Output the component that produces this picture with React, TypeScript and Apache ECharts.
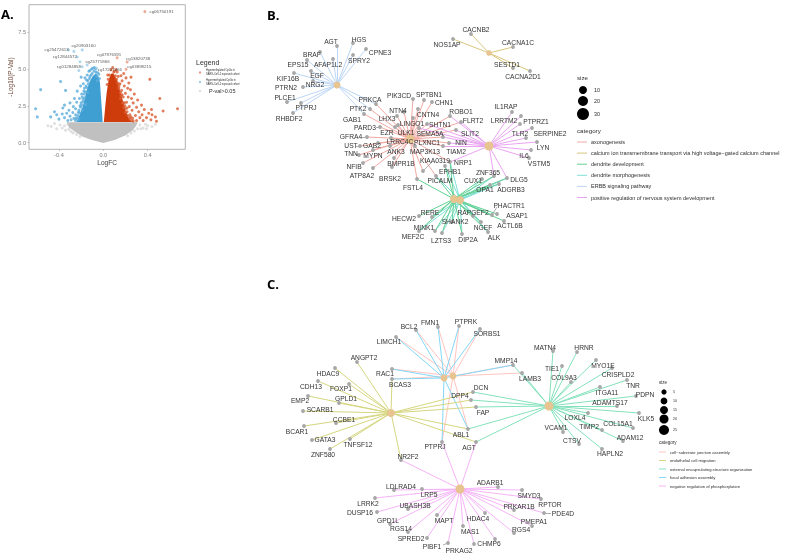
import React, { useEffect, useRef } from "react";
import * as echarts from "echarts";

// ---------- Panel A: volcano values (LogFC, -Log10(P-Val)) ----------
const xTicks = [-0.4, 0, 0.4];
const yTicks = [0, 2.5, 5, 7.5];
const greyBody = [[-0.33,1.38],[0.31,1.38],[0.3,1.2],[0.265,0.85],[0.2,0.5],[0.11,0.2],[0,-0.03],[-0.11,0.2],[-0.185,0.4],[-0.255,0.75],[-0.31,1.05]];
const blueBody = [[-0.005,1.4],[-0.24,1.4],[-0.215,1.87],[-0.185,2.45],[-0.167,3.0],[-0.15,3.55],[-0.125,4.1],[-0.098,4.5],[-0.067,4.72],[-0.043,4.5],[-0.03,4.1],[-0.021,3.1],[-0.012,2.2]];
const redBody = [[0.005,1.4],[0.018,2.45],[0.03,3.35],[0.048,4.25],[0.07,4.68],[0.09,4.72],[0.125,4.25],[0.15,3.55],[0.175,2.9],[0.2,2.2],[0.232,1.65],[0.26,1.4]];
const greyPoints = [[-0.5,1.15],[-0.47,1.1],[-0.44,1.3],[-0.42,0.95],[-0.39,1.2],[-0.37,1.0],[-0.35,1.15],[-0.34,0.85],[-0.32,1.25],[-0.31,0.9],[-0.29,0.75],[-0.27,0.65],[-0.24,0.55],[-0.21,0.42],[0.22,0.47],[0.25,0.65],[0.28,0.8],[0.31,0.95],[0.33,1.2],[0.34,0.95],[0.36,1.0],[0.38,1.25],[0.39,0.95],[0.4,1.15],[0.44,1.1],[0.47,1.25]];
const bluePoints = [[-0.565,3.6],[-0.61,2.3],[-0.595,1.75],[-0.475,1.75],[-0.44,2.1],[-0.42,1.9],[-0.4,1.6],[-0.385,4.15],[-0.34,3.55],[-0.35,2.55],[-0.365,2.35],[-0.37,1.95],[-0.35,1.7],[-0.33,2.0],[-0.32,1.5],[-0.31,2.2],[-0.3,2.7],[-0.3,1.8],[-0.29,1.55],[-0.275,2.05],[-0.27,2.45],[-0.265,1.65],[-0.26,3.0],[-0.25,1.9],[-0.25,2.3],[-0.24,2.75],[-0.235,3.5],[-0.225,2.05],[-0.22,1.6],[-0.215,3.0],[-0.21,2.5],[-0.205,3.85],[-0.2,4.45],[-0.195,3.3],[-0.19,2.2],[-0.185,2.8],[-0.18,4.0],[-0.175,3.5],[-0.17,3.05],[-0.165,4.4],[-0.16,2.6],[-0.155,3.85],[-0.15,4.25],[-0.145,4.6],[-0.14,3.4],[-0.13,4.85],[-0.12,4.9],[-0.105,5.0],[-0.095,5.05],[-0.08,5.1],[-0.07,5.0],[-0.065,4.8],[-0.06,4.5],[-0.055,4.2],[-0.25,1.5],[-0.24,1.7],[-0.22,2.2],[-0.2,2.7],[-0.19,3.1],[-0.17,3.7],[-0.14,4.2],[-0.12,4.5],[-0.1,4.7],[-0.245,1.62],[-0.228,1.85],[-0.215,2.05],[-0.205,2.4],[-0.195,2.55],[-0.182,2.95],[-0.172,3.3],[-0.16,3.45],[-0.15,3.75],[-0.135,4.0],[-0.125,4.35],[-0.11,4.6],[-0.085,4.85],[-0.05,4.75],[-0.04,4.65],[-0.035,4.35]];
const redPoints = [[0.51,3.0],[0.67,2.3],[0.54,2.15],[0.435,2.25],[0.42,4.3],[0.47,1.75],[0.48,1.45],[0.44,1.9],[0.43,1.55],[0.41,2.0],[0.39,1.7],[0.37,2.25],[0.36,1.5],[0.35,1.9],[0.345,2.55],[0.33,1.7],[0.32,2.1],[0.31,2.9],[0.3,1.5],[0.3,2.4],[0.29,1.85],[0.28,3.3],[0.27,2.7],[0.265,1.65],[0.26,2.2],[0.255,3.0],[0.25,4.45],[0.245,3.6],[0.24,1.9],[0.235,2.45],[0.23,4.05],[0.225,3.1],[0.22,3.7],[0.215,2.1],[0.21,2.75],[0.205,4.4],[0.2,3.35],[0.195,2.5],[0.19,3.85],[0.185,4.7],[0.18,3.1],[0.175,2.7],[0.17,4.2],[0.165,3.55],[0.16,4.55],[0.155,3.0],[0.15,4.0],[0.14,3.7],[0.135,4.5],[0.125,4.8],[0.115,4.95],[0.1,4.85],[0.085,5.1],[0.07,4.95],[0.055,4.6],[0.045,4.3],[0.26,1.5],[0.24,1.6],[0.22,1.85],[0.2,2.3],[0.18,2.7],[0.16,3.2],[0.14,3.8],[0.12,4.3],[0.27,1.45],[0.25,1.75],[0.235,1.7],[0.215,2.35],[0.2,2.05],[0.19,2.7],[0.185,2.4],[0.17,3.25],[0.155,3.4],[0.145,3.95],[0.13,4.05],[0.11,4.55],[0.095,4.8],[0.04,4.6],[0.035,3.95]];
const volcanoLabelled = [
  ["cg06750191", 0.375, 8.9, 16.7, 0],
  ["cg25472613", -0.315, 6.3, -11.7, 0],
  ["cg20903160", -0.19, 6.3, 1.3, -4],
  ["cg12844572", -0.235, 5.82, -12.3, 0],
  ["cg01284858", -0.19, 5.16, -13.3, 0],
  ["cg25771866", -0.145, 5.28, 10.3, -3.3],
  ["cg07976591", 0.125, 5.77, -8, -3.3],
  ["cg13820738", 0.215, 5.48, 11, -3],
  ["cg17227466", -0.06, 5.05, 13.3, 0.7],
  ["cg03898215", 0.205, 4.98, 13.3, -2.7],
];
const extraVolcanoPoints = [[-0.265,6.2],[-0.21,5.5],[-0.22,4.9]];

// ---------- Panels B, C: gene networks [name, x, y, labelX, labelY] ----------
const bHubs = [["ERBB", 337, 85, 7], ["CALCIUM", 489, 53, 5.5], ["AXON", 410, 139, 9], ["POSREG", 489, 146, 9], ["DENDEV", 454, 199, 8], ["DENMORPH", 460, 200, 8]];
const bNodes = [
  ["AGT",337,46,331,41],["HGS",353,43,359,39],["CPNE3",366,49,380,52],["BRAF",320,52,312,54],["EPS15",307,60,298,64],["AFAP1L2",333,59,328,64],["SPRY2",353,55,359,60],["EGF",311,71,317,75],["KIF16B",294,73,288,78],["NRG2",313,81,315,84],["PTRN2",303,87,286,87],["PLCE1",287,102,285,97],["PTPRJ",301,103,306,107],["RHBDF2",293,113,289,118],
  ["PRKCA",376,104,370,99],["PTK2",370,109,358,108],["GAB1",364,114,352,119],
  ["CACNB2",471,34,476,29],["CACNA1C",513,47,518,42],["NOS1AP",453,39,447,44],["SESTD1",513,68,507,64],["CACNA2D1",530,71,523,76],
  ["PIK3CD",413,99,399,95],["SPTBN1",424,100,429,94],["CHN1",432,102,444,102],["NTN4",404,112,398,110],["CNTN4",418,109,428,114],["LHX3",397,116,387,118],["LINGO1",413,118,412,123],["ROBO1",450,116,461,111],["FLRT2",461,122,473,120],["SHTN1",427,124,440,124],["PARD3",380,127,365,127],["EZR",395,127,387,132],["ULK1",398,125,406,132],["SEMA5A",419,128,430,133],["SLIT2",456,130,470,133],["GFRA4",367,137,351,136],["LRRC4C",391,138,400,141],["PLXNC1",443,137,427,142],["NIN",449,143,461,142],["UST",360,146,351,145],["GAB2",378,143,372,145],["ANK3",390,146,396,151],["MAP3K13",415,146,425,151],["TIAM2",443,146,456,151],["TNN",359,155,351,153],["MYPN",373,150,373,155],["BMPR1B",394,158,401,163],["KIAA0319",423,171,435,160],["NRP1",450,162,463,162],["NFIB",363,163,354,166],["ATP8A2",373,168,362,175],["BRSK2",392,167,390,178],
  ["EPHB1",445,166,450,171],["ZNF365",494,176,488,172],["CUX1",482,179,473,180],["DLG5",507,178,519,179],["PICALM",436,176,440,180],["FSTL4",417,179,413,187],["OPA1",490,185,485,189],["ADGRB3",499,184,511,189],["PHACTR1",492,215,509,205],["ASAP1",497,214,517,215],["ACTL6B",504,221,510,225],["RAPGEF2",473,216,473,212],["NGEF",481,222,483,227],["ALK",488,232,494,237],["RERE",432,217,430,212],["HECW2",419,216,404,218],["MINK1",435,231,424,227],["SHANK2",452,222,455,221],["MEF2C",419,231,413,236],["LZTS3",442,233,441,240],["DIP2A",462,234,468,239],
  ["IL1RAP",512,112,506,106],["LRRTM2",521,116,504,120],["PTPRZ1",520,124,536,121],["TLR2",526,138,520,133],["SERPINE2",532,128,550,133],["LYN",537,142,543,147],["IL6",531,150,524,155],["VSTM5",529,158,539,163],
];
const bLeaders = [["KIAA0319",431,163],["PHACTR1",497,207],["PARD3",376,127],["GFRA4",362,137],["UST",356,146],["TNN",355,154]];
const bErbb = ["AGT","HGS","CPNE3","BRAF","EPS15","AFAP1L2","SPRY2","EGF","KIF16B","NRG2","PTRN2","PLCE1","PTPRJ","RHBDF2","PRKCA","PTK2","GAB1"];
const bCalcium = ["CACNB2","CACNA1C","NOS1AP","SESTD1","CACNA2D1"];
const bAxon = ["PRKCA","PTK2","GAB1","PIK3CD","SPTBN1","CHN1","NTN4","CNTN4","LHX3","LINGO1","ROBO1","SHTN1","PARD3","EZR","ULK1","SEMA5A","GFRA4","LRRC4C","PLXNC1","UST","GAB2","ANK3","MAP3K13","TNN","MYPN","BMPR1B","KIAA0319","NFIB","ATP8A2","BRSK2","FSTL4","PICALM","FLRT2","SLIT2","NIN","TIAM2","NRP1"];
const bPosReg = ["ROBO1","FLRT2","SHTN1","SEMA5A","PLXNC1","SLIT2","NIN","TIAM2","NRP1","IL1RAP","LRRTM2","PTPRZ1","TLR2","SERPINE2","LYN","IL6","VSTM5","ZNF365","DLG5"];
const bDendev = ["EPHB1","NRP1","ZNF365","CUX1","DLG5","OPA1","ADGRB3","PHACTR1","ASAP1","ACTL6B","RAPGEF2","NGEF","ALK","DIP2A","SHANK2","LZTS3","MINK1","MEF2C","HECW2","RERE","FSTL4","PICALM"];
const bDenmorph = ["EPHB1","NRP1","ZNF365","CUX1","DLG5","OPA1","ADGRB3","PHACTR1","RAPGEF2","NGEF","ALK","DIP2A","SHANK2","LZTS3","MINK1","MEF2C","RERE","PICALM"];

const cHubs = [["ENDO", 391, 413, 8], ["FOCAL", 444, 378, 7], ["SUBSTRATE", 453, 376, 7], ["EXTRA", 549, 406, 9], ["NEGPHOS", 460, 489, 9]];
const cNodes = [
  ["BCL2",416,330,409,326],["FMN1",438,327,430,322],["PTPRK",459,326,466,321],["SORBS1",480,329,487,333],["LIMCH1",396,337,389,341],["MMP14",513,365,506,360],["LAMB3",522,373,530,378],["RAC1",392,369,385,373],["BCAS3",392,379,400,384],
  ["ANGPT2",357,362,364,357],["HDAC9",335,368,328,373],["CDH13",318,381,311,386],["FOXP1",349,384,341,388],["EMP2",308,396,300,400],["GPLD1",339,403,346,398],["SCARB1",303,411,320,409],["CCBE1",336,423,344,419],["BCAR1",304,426,297,431],["GATA3",312,440,325,439],["TNFSF12",350,439,358,444],["ZNF580",330,449,323,454],["NR2F2",401,460,408,456],
  ["DCN",473,392,481,387],["DPP4",471,400,460,395],["FAP",476,407,483,412],["ABL1",468,429,461,434],["AGT",476,442,469,447],["PTPRJ",442,442,435,446],
  ["MATN4",553,351,545,347],["HRNR",577,352,584,347],["TIE1",562,366,552,368],["MYO1E",596,360,603,365],["COL9A3",571,382,564,377],["CRISPLD2",612,368,618,374],["TNR",627,380,633,385],["ITGA11",600,387,607,392],["PDPN",636,396,645,394],["ADAMTS17",617,406,610,402],["KLK5",639,413,646,418],["LOXL4",588,413,575,417],["COL15A1",633,428,618,423],["VCAM1",563,432,556,427],["TIMP2",602,430,589,426],["ADAM12",623,441,630,437],["CTSV",579,444,572,440],["HAPLN2",602,449,610,453],
  ["ADARB1",498,487,490,482],["LDLRAD4",394,490,401,486],["LRP5",422,489,429,494],["SMYD3",522,490,529,495],["RPTOR",541,499,550,504],["LRRK2",375,498,368,503],["UBASH3B",408,509,415,505],["PRKAR1B",514,510,519,506],["DUSP16",377,512,360,512],["PDE4D",544,513,563,513],["HDAC4",485,513,478,518],["GPD1L",390,524,388,520],["MAPT",437,515,444,520],["PMEPA1",532,526,534,521],["RGS14",408,532,401,528],["RGS4",514,533,521,529],["MAS1",463,526,470,531],["SPRED2",427,538,411,538],["CHMP6",495,539,489,543],["PIBF1",448,543,432,546],["PRKAG2",474,544,459,550],
];
const cLeaders = [["PDE4D",551,513],["PIBF1",443,545]];
const cFocal = ["BCL2","FMN1","PTPRK","SORBS1","LIMCH1","MMP14","RAC1","BCAS3","ABL1","PTPRJ"];
const cSubstrate = ["BCL2","FMN1","PTPRK","SORBS1","LIMCH1","MMP14","LAMB3","RAC1","BCAS3","ABL1","PTPRJ"];
const cEndo = ["ANGPT2","HDAC9","CDH13","FOXP1","EMP2","GPLD1","SCARB1","CCBE1","BCAR1","GATA3","TNFSF12","ZNF580","NR2F2","BCAS3","DCN","DPP4","FAP","ABL1","AGT"];
const cExtra = ["MMP14","LAMB3","MATN4","HRNR","TIE1","MYO1E","COL9A3","CRISPLD2","TNR","ITGA11","PDPN","ADAMTS17","KLK5","LOXL4","COL15A1","VCAM1","TIMP2","ADAM12","CTSV","HAPLN2","DCN","DPP4","FAP","ABL1","AGT"];
const cNegPhos = ["ADARB1","LDLRAD4","LRP5","SMYD3","RPTOR","LRRK2","UBASH3B","PRKAR1B","DUSP16","PDE4D","HDAC4","GPD1L","MAPT","PMEPA1","RGS14","RGS4","MAS1","SPRED2","CHMP6","PIBF1","PRKAG2","NR2F2","AGT","PTPRJ"];

// ---------- Legend contents ----------
const bSizeValues = ["10", "20", "30"];
const cSizeValues = ["5", "10", "15", "20", "25"];
const bCategories = ["axonogenesis","calcium ion transmembrane transport via high voltage\u2212gated calcium channel","dendrite development","dendrite morphogenesis","ERBB signaling pathway","positive regulation of nervous system development"];
const cCategories = ["cell\u2212substrate junction assembly","endothelial cell migration","external encapsulating structure organization","focal adhesion assembly","negative regulation of phosphorylation"];
const bColors = ["#f2aaa4","#d9c77e","#62d193","#80e0d6","#bcd6f5","#eaa4f2"];
const cColors = ["#ffc4c0","#d6d680","#84e2bc","#84d8f8","#f6b4f8"];

const HUB = "#e8c490";
const NODE = "#a8a8a8";
const TXT = "#333333";

function buildGraph(hubs: any[], nodes: any[], leaders: any[], members: [string, string[], string][]) {
  const data: any[] = [];
  const index: Record<string, number> = {};
  nodes.forEach((n) => {
    index[n[0]] = data.length;
    data.push({
      name: n[0],
      value: [n[1], n[2]],
      symbolSize: 3.8,
      itemStyle: { color: NODE },
      label: {
        show: true,
        formatter: n[0],
        position: "inside",
        offset: [n[3] - n[1], n[4] - n[2]],
        fontSize: 6.7,
        color: TXT,
        fontFamily: "Liberation Sans",
      },
    });
  });
  hubs.forEach((h) => {
    index["#" + h[0]] = data.length;
    data.push({ name: "#" + h[0], value: [h[1], h[2]], symbolSize: h[3], itemStyle: { color: HUB }, label: { show: false } });
  });
  const links: any[] = [];
  members.forEach(([hub, genes, color]) => {
    genes.forEach((g) => {
      links.push({ source: index["#" + hub], target: index[g], lineStyle: { color, width: 1, opacity: 1, curveness: 0 } });
    });
  });
  leaders.forEach((l, i) => {
    const anchor = data.length;
    data.push({ name: "~" + i, value: [l[1], l[2]], symbolSize: 0, itemStyle: { opacity: 0 }, label: { show: false } });
    links.push({ source: index[l[0]], target: anchor, lineStyle: { color: "#8c8c8c", width: 0.7, opacity: 1, curveness: 0 } });
  });
  return {
    type: "graph",
    layout: "none",
    coordinateSystem: "cartesian2d",
    xAxisIndex: 1,
    yAxisIndex: 1,
    roam: false,
    silent: true,
    data,
    links,
    edgeSymbol: ["none", "none"],
    z: 3,
  };
}

function bodySeries(body: number[][], fill: string, z: number) {
  return {
    type: "custom",
    xAxisIndex: 0,
    yAxisIndex: 0,
    silent: true,
    z,
    data: body,
    renderItem: (p: any, api: any) =>
      p.dataIndex === 0
        ? { type: "polygon", shape: { points: body.map((b) => api.coord(b)) }, style: { fill } }
        : null,
  };
}

function dots(data: number[][], color: string, z: number, opacity = 0.8) {
  return { type: "scatter", xAxisIndex: 0, yAxisIndex: 0, silent: true, symbolSize: 3, z, data, itemStyle: { color, opacity } };
}

function txt(text: string, x: number, y: number, fontSize: number, extra: any = {}) {
  return { type: "text", x, y, silent: true, style: { text, fontSize, fill: "#2e2e2e", fontFamily: "Liberation Sans", textVerticalAlign: "middle", ...extra } };
}

function legendGraphics() {
  const g: any[] = [];
  // panel letters
  g.push(txt("A.", 1, 14, 13, { fill: "#000", fontWeight: "bold", fontFamily: "Open Sans" }));
  g.push(txt("B.", 267, 15, 13, { fill: "#000", fontWeight: "bold", fontFamily: "Open Sans" }));
  g.push(txt("C.", 267, 284, 13, { fill: "#000", fontWeight: "bold", fontFamily: "Open Sans" }));
  // volcano legend
  g.push(txt("Legend", 196, 62, 7));
  g.push({ type: "circle", shape: { cx: 200, cy: 72.5, r: 1.2 }, style: { fill: "#eb9a80" } });
  g.push(txt("Hypomethylated CpGs in", 206, 70.5, 2.6));
  g.push(txt("SARS-CoV-2 exposed cohort", 206, 74.5, 2.6));
  g.push({ type: "circle", shape: { cx: 200, cy: 82, r: 1.2 }, style: { fill: "#9ccde8" } });
  g.push(txt("Hypermethylated CpGs in", 206, 80, 2.6));
  g.push(txt("SARS-CoV-2 exposed cohort", 206, 84, 2.6));
  g.push({ type: "circle", shape: { cx: 200, cy: 91, r: 1.2 }, style: { fill: "#dddddd" } });
  g.push(txt("P-val>0.05", 209, 91, 5.5));
  // B legend
  g.push(txt("size", 577, 77, 6.2));
  [[90, 4], [101, 5], [114, 6]].forEach(([cy, r], i) => {
    g.push({ type: "circle", shape: { cx: 583, cy, r }, style: { fill: "#000" } });
    g.push(txt(bSizeValues[i], 594, cy, 5.4));
  });
  g.push(txt("category", 577, 130, 6.2));
  bCategories.forEach((c, i) => {
    const y = 142 + i * 11.1;
    g.push({ type: "line", shape: { x1: 577, y1: y, x2: 587, y2: y }, style: { stroke: bColors[i], lineWidth: 1 } });
    g.push(txt(c, 591, y, 5.5));
  });
  // C legend
  g.push(txt("size", 659, 382, 4.6));
  [[392, 2.6], [401, 3.4], [410, 4], [419, 4.5], [430, 5]].forEach(([cy, r], i) => {
    g.push({ type: "circle", shape: { cx: 664, cy, r }, style: { fill: "#000" } });
    g.push(txt(cSizeValues[i], 673, cy, 3.6));
  });
  g.push(txt("category", 659, 442, 4.6));
  cCategories.forEach((c, i) => {
    const y = 452 + i * 8.5;
    g.push({ type: "line", shape: { x1: 659, y1: y, x2: 666, y2: y }, style: { stroke: cColors[i], lineWidth: 1 } });
    g.push(txt(c, 670, y, 4.15));
  });
  return g;
}

export default function App() {
  const ref = useRef<HTMLDivElement>(null);
  useEffect(() => {
    const chart = echarts.init(ref.current!, undefined, { renderer: "svg" });
    const axisGrey = "#7d7d7d";
    chart.setOption({
      animation: false,
      backgroundColor: "#fff",
      grid: [
        { left: 29, top: 4.7, width: 156.3, height: 144.6, show: true, borderColor: "#b3b3b3", borderWidth: 1, backgroundColor: "#fff" },
        { left: 0, top: 0, width: 797, height: 554, show: false },
      ],
      xAxis: [
        {
          type: "value", gridIndex: 0, min: -0.67, max: 0.74, splitLine: { show: false }, axisLine: { show: false, onZero: false },
          name: "LogFC", nameLocation: "middle", nameGap: 10,
          nameTextStyle: { fontSize: 6.6, color: "#444", fontFamily: "Liberation Sans" },
          axisTick: { show: true, length: 1.5, lineStyle: { color: "#999", width: 0.6 }, customValues: xTicks },
          axisLabel: { customValues: xTicks, margin: 3, fontSize: 5.6, color: axisGrey, fontFamily: "Liberation Sans", formatter: (v: number) => v.toFixed(1) },
        },
        { type: "value", gridIndex: 1, min: 0, max: 797, show: false },
      ],
      yAxis: [
        {
          type: "value", gridIndex: 0, min: -0.45, max: 9.37, splitLine: { show: false }, axisLine: { show: false, onZero: false },
          name: "-Log10(P-Val)", nameLocation: "middle", nameGap: 16, nameRotate: 90,
          nameTextStyle: { fontSize: 6.4, color: "#6e4a3a", fontFamily: "Liberation Sans" },
          axisTick: { show: true, length: 1.5, lineStyle: { color: "#999", width: 0.6 }, customValues: yTicks },
          axisLabel: { customValues: yTicks, margin: 3, fontSize: 5.6, color: axisGrey, fontFamily: "Liberation Sans", formatter: (v: number) => v.toFixed(1) },
        },
        { type: "value", gridIndex: 1, min: 0, max: 554, inverse: true, show: false },
      ],
      series: [
        bodySeries(greyBody, "#c0c0c0", 2),
        dots(greyPoints, "#cccccc", 2, 0.6),
        bodySeries(blueBody, "#3f9fd2", 3),
        bodySeries(redBody, "#cf3c0c", 3),
        dots(bluePoints, "#5aaddb", 3),
        dots(redPoints, "#d95c32", 3),
        dots(extraVolcanoPoints, "#9ccde8", 3),
        {
          type: "scatter", xAxisIndex: 0, yAxisIndex: 0, silent: true, symbolSize: 3, z: 4,
          data: volcanoLabelled.map((d: any) => ({
            value: [d[1], d[2]],
            label: { show: true, position: "inside", formatter: d[0], offset: [d[3], d[4]], fontSize: 4.4, color: "#333", fontFamily: "Liberation Sans" },
            itemStyle: { color: d[1] > 0 ? "#ea9a80" : "#9ccde8" },
          })),
        },
        buildGraph(bHubs, bNodes, bLeaders, [
          ["ERBB", bErbb, bColors[4]],
          ["CALCIUM", bCalcium, bColors[1]],
          ["AXON", bAxon, bColors[0]],
          ["POSREG", bPosReg, bColors[5]],
          ["DENMORPH", bDenmorph, bColors[3]],
          ["DENDEV", bDendev, bColors[2]],
        ]),
        buildGraph(cHubs, cNodes, cLeaders, [
          ["SUBSTRATE", cSubstrate, cColors[0]],
          ["FOCAL", cFocal, cColors[3]],
          ["ENDO", cEndo, cColors[1]],
          ["EXTRA", cExtra, cColors[2]],
          ["NEGPHOS", cNegPhos, cColors[4]],
        ]),
      ],
      graphic: legendGraphics(),
    });
    return () => chart.dispose();
  }, []);
  return <div ref={ref} style={{ position: "absolute", left: 0, top: 0, width: 797, height: 554, filter: "blur(0.4px)" }} />;
}
